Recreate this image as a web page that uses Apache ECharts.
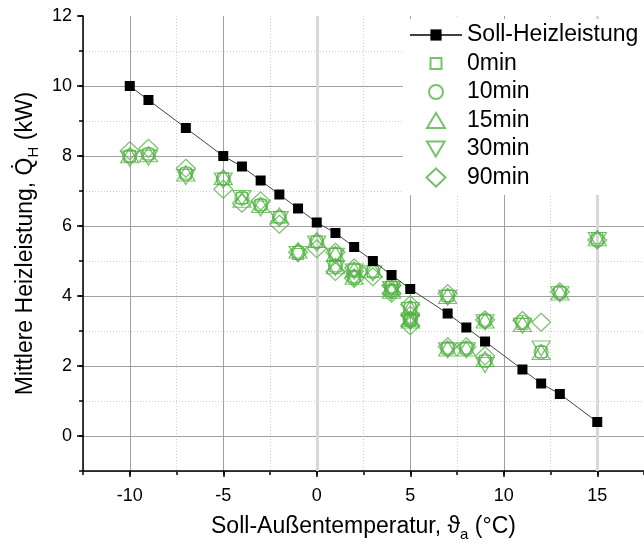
<!DOCTYPE html>
<html>
<head>
<meta charset="utf-8">
<script src="https://cdn.jsdelivr.net/npm/echarts@6/dist/echarts.min.js"></script>
<style>html,body{margin:0;padding:0;background:#fff}#c{width:644px;height:544px}</style>
</head>
<body>
<div id="c"></div>
<script>
// Soll-Heizleistung (target heating power)
const sollX = [-10, -9, -7, -5, -4, -3, -2, -1, 0, 1, 2, 3, 4, 5, 7, 8, 9, 11, 12, 13, 15];
const sollY = [10.0, 9.6, 8.8, 8.0, 7.7, 7.3, 6.9, 6.5, 6.1, 5.8, 5.4, 5.0, 4.6, 4.2, 3.5, 3.1, 2.7, 1.9, 1.5, 1.2, 0.4];

// measured points (shared temperatures)
const measX = [-10, -9, -7, -5, -4, -3, -2, -1, 0, 1, 1, 2, 2, 3, 4, 4, 5, 5, 5, 7, 7, 8, 9, 9, 11, 12, 13, 15];
const y0min  = [8.00, 8.05, 7.50, 7.35, 6.80, 6.60, 6.25, 5.20, 5.55, 5.20, 4.85, 4.75, 4.55, 4.70, 4.25, 4.15, 3.65, 3.35, 3.30, 4.00, 2.50, 2.50, 3.30, 2.15, 3.20, 2.40, 4.10, 5.65];
const y10min = [8.00, 8.05, 7.50, 7.35, 6.80, 6.60, 6.25, 5.25, 5.55, 5.20, 4.85, 4.75, 4.55, 4.70, 4.25, 4.15, 3.65, 3.35, 3.30, 4.00, 2.50, 2.50, 3.30, 2.15, 3.25, 2.40, 4.10, 5.60];
const y15min = [8.02, 8.05, 7.50, 7.40, 6.75, 6.60, 6.30, 5.30, 5.60, 5.20, 4.85, 4.75, 4.55, 4.75, 4.25, 4.15, 3.65, 3.35, 3.30, 4.00, 2.50, 2.50, 3.30, 2.20, 3.20, 2.40, 4.10, 5.65];
const y30min = [7.92, 7.95, 7.40, 7.30, 6.80, 6.50, 6.20, 5.20, 5.50, 5.15, 4.80, 4.70, 4.50, 4.65, 4.20, 4.10, 3.60, 3.30, 3.25, 3.95, 2.45, 2.45, 3.25, 2.03, 3.15, 2.50, 4.05, 5.60];
const y90min = [8.15, 8.22, 7.65, 7.05, 6.65, 6.72, 6.05, 5.25, 5.35, 5.25, 4.70, 4.80, 4.50, 4.55, 4.30, 4.08, 3.75, 3.45, 3.15, 4.07, 2.55, 2.55, 3.32, 2.29, 3.30, 3.25, 4.12, 5.60];

const seriesNames = ['Soll-Heizleistung', '0min', '10min', '15min', '30min', '90min'];
const refLines = [0, 15];

const FONT = 'Liberation Sans, Arial, sans-serif';
const GREEN = '#55b346';
const DOWN_TRI = 'path://M0,0L20,0L10,17Z';

const pairs = (xs, ys) => xs.map((x, i) => [x, ys[i]]);

// marker definitions: symbol, size [w,h]
const markers = {
  '0min':  { symbol: 'rect', size: [11, 11] },
  '10min': { symbol: 'circle', size: [14, 14] },
  '15min': { symbol: 'triangle', size: [18, 15] },
  '30min': { symbol: DOWN_TRI, size: [18, 15] },
  '90min': { symbol: 'diamond', size: [19, 18] }
};

function scatter(name, ys) {
  return {
    name: name, type: 'scatter', xAxisIndex: 0, yAxisIndex: 0,
    data: pairs(measX, ys),
    symbol: markers[name].symbol, symbolSize: markers[name].size,
    itemStyle: { color: 'rgba(255,255,255,0)', borderColor: GREEN, borderWidth: 1.2 },
    z: 2, silent: true
  };
}

// legend layout
const LEG_ICON_CX = 435, LEG_TEXT_X = 466;
const legCenters = [35, 63.5, 92, 120.5, 149, 177.5];
const LEG_FS = 23, LEG_LH = 24;

const legends = [{
  data: [seriesNames[0]], orient: 'vertical', left: 403, top: legCenters[0] - LEG_LH / 2 - 4,
  backgroundColor: '#fff', padding: [4, 6, 148, 6],
  itemWidth: 52, itemHeight: 14, selectedMode: false, z: 4,
  textStyle: { fontSize: LEG_FS, lineHeight: LEG_LH, color: '#000', fontFamily: FONT }
}];
seriesNames.slice(1).forEach((n, i) => {
  const [w, h] = markers[n].size;
  legends.push({
    data: [n], orient: 'vertical', left: LEG_ICON_CX - w / 2, top: legCenters[i + 1] - LEG_LH / 2,
    padding: 0, itemWidth: w, itemHeight: h, selectedMode: false, z: 5,
    textStyle: { fontSize: LEG_FS, lineHeight: LEG_LH, color: '#000', fontFamily: FONT,
                 padding: [0, 0, 0, LEG_TEXT_X - (LEG_ICON_CX + w / 2 + 5)] }
  });
});

const titleRich = {
  n: { fontSize: 23, color: '#000', fontFamily: FONT, lineHeight: 23, verticalAlign: 'top' },
  s: { fontSize: 15, color: '#000', fontFamily: FONT, lineHeight: 15, verticalAlign: 'top', padding: [12, 0, 0, 0] }
};

const chart = echarts.init(document.getElementById('c'), null, { renderer: 'canvas' });
chart.setOption({
  animation: false,
  textStyle: { fontFamily: FONT },
  grid: { left: 83, right: 0, top: 16, bottom: 73, containLabel: false, outerBoundsMode: 'none' },
  xAxis: [
    {
      type: 'value', min: -12.5, max: 17.5, splitNumber: 6, minInterval: 5, maxInterval: 5,
      position: 'bottom',
      name: '{n|Soll-Außentemperatur, \u03d1}{s|a}{n| (°C)}',
      nameLocation: 'middle', nameGap: 44,
      nameTextStyle: { fontSize: 23, color: '#000', fontFamily: FONT, rich: titleRich },
      axisLine: { show: true, onZero: false, lineStyle: { color: '#000', width: 1.5 } },
      axisTick: { show: true, inside: false, length: 6, lineStyle: { color: '#000', width: 1.5 } },
      axisLabel: { fontSize: 18, color: '#000', margin: 16, fontFamily: FONT, showMinLabel: false, showMaxLabel: false },
      splitLine: { show: true, lineStyle: { color: '#a0a0a0', width: 1 } },
      z: 1
    },
    {
      type: 'value', min: -12.5, max: 17.5, interval: 2.5, position: 'bottom',
      axisLine: { show: false, onZero: false },
      axisTick: { show: true, inside: false, length: 4, lineStyle: { color: '#000', width: 1.5 } },
      axisLabel: { show: false },
      splitLine: { show: true, lineStyle: { color: '#cfcfcf', width: 1, type: [1, 2] } },
      z: 0
    }
  ],
  yAxis: [
    {
      type: 'value', min: -1, max: 12, splitNumber: 6, minInterval: 2, maxInterval: 2,
      position: 'left',
      name: '{n|Mittlere Heizleistung, Q\u0307}{s|H}{n| (kW)}',
      nameLocation: 'middle', nameGap: 40, nameRotate: 90,
      nameTextStyle: { fontSize: 23, color: '#000', fontFamily: FONT, rich: titleRich },
      axisLine: { show: true, onZero: false, lineStyle: { color: '#000', width: 1.5 } },
      axisTick: { show: true, inside: false, length: 6, lineStyle: { color: '#000', width: 1.5 } },
      axisLabel: { fontSize: 18, color: '#000', margin: 11, fontFamily: FONT, showMinLabel: false },
      splitLine: { show: true, showMaxLine: false, lineStyle: { color: '#a0a0a0', width: 1 } },
      z: 1
    },
    {
      type: 'value', min: -1, max: 12, interval: 1, position: 'left',
      axisLine: { show: false, onZero: false },
      axisTick: { show: true, inside: false, length: 4, lineStyle: { color: '#000', width: 1.5 } },
      axisLabel: { show: false },
      splitLine: { show: true, showMaxLine: false, lineStyle: { color: '#cfcfcf', width: 1, type: [1, 2] } },
      z: 0
    }
  ],
  legend: legends,
  series: [
    {
      name: 'ref', type: 'line', data: [], silent: true, z: 1.5,
      markLine: {
        silent: true, symbol: 'none', label: { show: false }, z: 1.5,
        lineStyle: { color: '#d8d8d8', width: 3, type: 'solid' },
        data: refLines.map(v => ({ xAxis: v }))
      }
    },
    scatter('0min', y0min),
    scatter('10min', y10min),
    scatter('15min', y15min),
    scatter('30min', y30min),
    scatter('90min', y90min),
    {
      name: 'Soll-Heizleistung', type: 'line', xAxisIndex: 0, yAxisIndex: 0,
      data: pairs(sollX, sollY),
      symbol: 'rect', symbolSize: 10, showAllSymbol: true,
      itemStyle: { color: '#000' },
      lineStyle: { color: '#404040', width: 1 },
      z: 3, silent: true
    }
  ]
});
</script>
</body>
</html>
